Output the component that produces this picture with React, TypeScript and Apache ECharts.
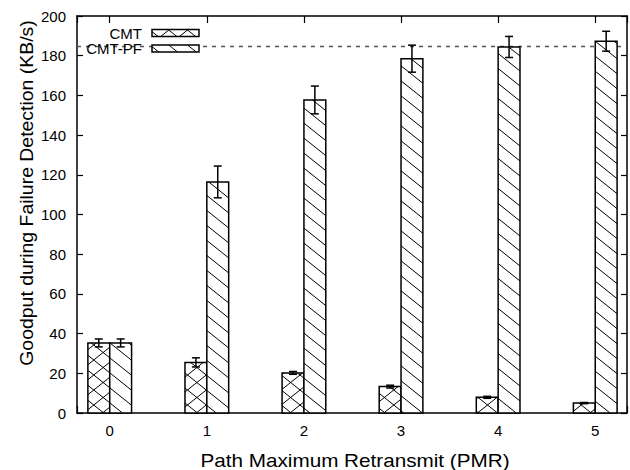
import React, { useEffect, useRef } from "react";
import * as echarts from "echarts";

// ---- data ----
const categories = ["0", "1", "2", "3", "4", "5"];
const seriesNames = ["CMT", "CMT-PF"];
const cmtValues = [35.3, 25.5, 20.2, 13.3, 7.9, 5.0];
const cmtErrors = [2.0, 2.3, 0.7, 0.7, 0.5, 0.3];
const pfValues = [35.3, 116.4, 157.7, 178.5, 184.4, 187.3];
const pfErrors = [2.0, 8.0, 7.0, 6.8, 5.3, 5.0];
const referenceLevel = 185;
const yMin = 0;
const yMax = 200;
const yInterval = 20;
const xAxisName = "Path Maximum Retransmit (PMR)";
const yAxisName = "Goodput during Failure Detection (KB/s)";

const FONT = "Liberation Sans, Arial, Helvetica, sans-serif";
const HATCH_SPACING = 15;
const HATCH_SLOPE = 0.8;

type Seg = [number, number, number, number];

function hatch(x0: number, y0: number, x1: number, y1: number, s: number, sp: number): Seg[] {
  const out: Seg[] = [];
  let cmin: number, cmax: number;
  if (s > 0) {
    cmin = y0 - s * x1;
    cmax = y1 - s * x0;
  } else {
    cmin = y0 - s * x0;
    cmax = y1 - s * x1;
  }
  const k0 = Math.ceil(cmin / sp);
  const k1 = Math.floor(cmax / sp);
  for (let k = k0; k <= k1; k++) {
    const c = k * sp;
    const xa = (y0 - c) / s;
    const xb = (y1 - c) / s;
    const lo = Math.max(x0, Math.min(xa, xb));
    const hi = Math.min(x1, Math.max(xa, xb));
    if (hi - lo > 0.3) out.push([lo, c + s * lo, hi, c + s * hi]);
  }
  return out;
}

function patternLines(x0: number, y0: number, x1: number, y1: number, cross: boolean) {
  const segs = hatch(x0, y0, x1, y1, HATCH_SLOPE, HATCH_SPACING);
  if (cross) segs.push(...hatch(x0, y0, x1, y1, -HATCH_SLOPE, HATCH_SPACING));
  return segs.map((g) => ({
    type: "line",
    shape: { x1: g[0], y1: g[1], x2: g[2], y2: g[3] },
    style: { stroke: "#000", lineWidth: 1 },
  }));
}

function makeRenderItem(side: number, cross: boolean) {
  return (params: any, api: any) => {
    const i = api.value(0);
    const v = api.value(1);
    const lo = api.value(2);
    const hi = api.value(3);
    const unit = api.size([1, 0])[0];
    const w = unit * 0.225;
    const base = api.coord([i, 0]);
    const top = api.coord([i, v]);
    const x0 = side < 0 ? base[0] - w : base[0];
    const x1 = x0 + w;
    const y0 = top[1];
    const y1 = base[1];
    const ex = (x0 + x1) / 2;
    const pLo = api.coord([i, lo])[1];
    const pHi = api.coord([i, hi])[1];
    const cap = 4;
    return {
      type: "group",
      children: [
        { type: "rect", shape: { x: x0, y: y0, width: w, height: y1 - y0 }, style: { fill: "#fff" } },
        ...patternLines(x0, y0, x1, y1, cross),
        {
          type: "rect",
          shape: { x: x0, y: y0, width: w, height: y1 - y0 },
          style: { fill: "none", stroke: "#000", lineWidth: 1.5 },
        },
        { type: "line", shape: { x1: ex, y1: pLo, x2: ex, y2: pHi }, style: { stroke: "#000", lineWidth: 1.5 } },
        { type: "line", shape: { x1: ex - cap, y1: pLo, x2: ex + cap, y2: pLo }, style: { stroke: "#000", lineWidth: 1.5 } },
        { type: "line", shape: { x1: ex - cap, y1: pHi, x2: ex + cap, y2: pHi }, style: { stroke: "#000", lineWidth: 1.5 } },
      ],
    };
  };
}

function legendGraphics() {
  const items: any[] = [];
  const rows = [
    { name: seriesNames[0], y: 29.5, cross: true },
    { name: seriesNames[1], y: 45, cross: false },
  ];
  rows.forEach((r) => {
    const bx = 152, bw = 47, bh = 7;
    items.push({
      type: "text",
      x: 142,
      y: r.y + bh / 2,
      z: 10,
      style: { text: r.name, font: `15px ${FONT}`, fill: "#000", align: "right", verticalAlign: "middle" },
    });
    items.push({ type: "rect", z: 10, shape: { x: bx, y: r.y, width: bw, height: bh }, style: { fill: "#fff" } });
    patternLines(bx, r.y, bx + bw, r.y + bh, r.cross).forEach((l) => items.push({ ...l, z: 11 }));
    items.push({
      type: "rect",
      z: 12,
      shape: { x: bx, y: r.y, width: bw, height: bh },
      style: { fill: "none", stroke: "#000", lineWidth: 1.5 },
    });
  });
  items.push({
    type: "text",
    x: 355,
    y: 461,
    scaleX: 1.15,
    style: { text: xAxisName, font: `18px ${FONT}`, fill: "#000", align: "center", verticalAlign: "middle" },
  });
  items.push({
    type: "text",
    x: 27,
    y: 193,
    rotation: Math.PI / 2,
    scaleX: 1.08,
    style: { text: yAxisName, font: `18px ${FONT}`, fill: "#000", align: "center", verticalAlign: "middle" },
  });
  return items;
}

const xMin = -0.337;
const xMax = 5.327;

function xLabel(v: number) {
  const r = Math.round(v);
  if (Math.abs(v - r) > 1e-6) return "";
  return categories[r] ?? "";
}

export default function App() {
  const ref = useRef<HTMLDivElement>(null);
  useEffect(() => {
    document.body.style.margin = "0";
    if (!ref.current) return;
    const chart = echarts.init(ref.current, undefined, { renderer: "svg" });
    const axisLine = { show: true, onZero: false, lineStyle: { color: "#000", width: 1.5 } };
    const xCommon = {
      type: "value",
      min: xMin,
      max: xMax,
      minInterval: 1,
      maxInterval: 1,
      axisLine,
      splitLine: { show: false },
      axisTick: { show: true, inside: true, length: 7, lineStyle: { color: "#000", width: 1.2 } },
    };
    const yCommon = {
      type: "value",
      min: yMin,
      max: yMax,
      interval: yInterval,
      axisLine,
      splitLine: { show: false },
      axisTick: { show: true, inside: true, length: 6, lineStyle: { color: "#000", width: 1.2 } },
    };
    const toData = (vals: number[], errs: number[]) =>
      vals.map((v, i) => [i, v, v - errs[i], v + errs[i]]);
    chart.setOption({
      animation: false,
      backgroundColor: "#fff",
      grid: { left: 77, right: -1, top: 16, bottom: 57 },
      xAxis: [
        {
          ...xCommon,
          position: "bottom",
          axisLabel: { show: true, formatter: xLabel, color: "#000", fontSize: 15, fontFamily: FONT, margin: 10 },
        },
        { ...xCommon, position: "top", axisLabel: { show: false } },
      ],
      yAxis: [
        {
          ...yCommon,
          position: "left",
          axisLabel: { show: true, color: "#000", fontSize: 15, fontFamily: FONT, margin: 11 },
        },
        { ...yCommon, position: "right", axisLabel: { show: false } },
      ],
      series: [
        {
          type: "custom",
          name: seriesNames[0],
          renderItem: makeRenderItem(-1, true),
          encode: { x: 0, y: 1 },
          data: toData(cmtValues, cmtErrors),
          z: 3,
          markLine: {
            silent: true,
            symbol: "none",
            z: 1,
            label: { show: false },
            lineStyle: { type: [4, 5], color: "#555", width: 1.3 },
            data: [{ yAxis: referenceLevel }],
          },
        },
        {
          type: "custom",
          name: seriesNames[1],
          renderItem: makeRenderItem(1, false),
          encode: { x: 0, y: 1 },
          data: toData(pfValues, pfErrors),
          z: 3,
        },
      ],
      graphic: legendGraphics(),
    });
    return () => chart.dispose();
  }, []);
  return <div ref={ref} style={{ width: 630, height: 470 }} />;
}
